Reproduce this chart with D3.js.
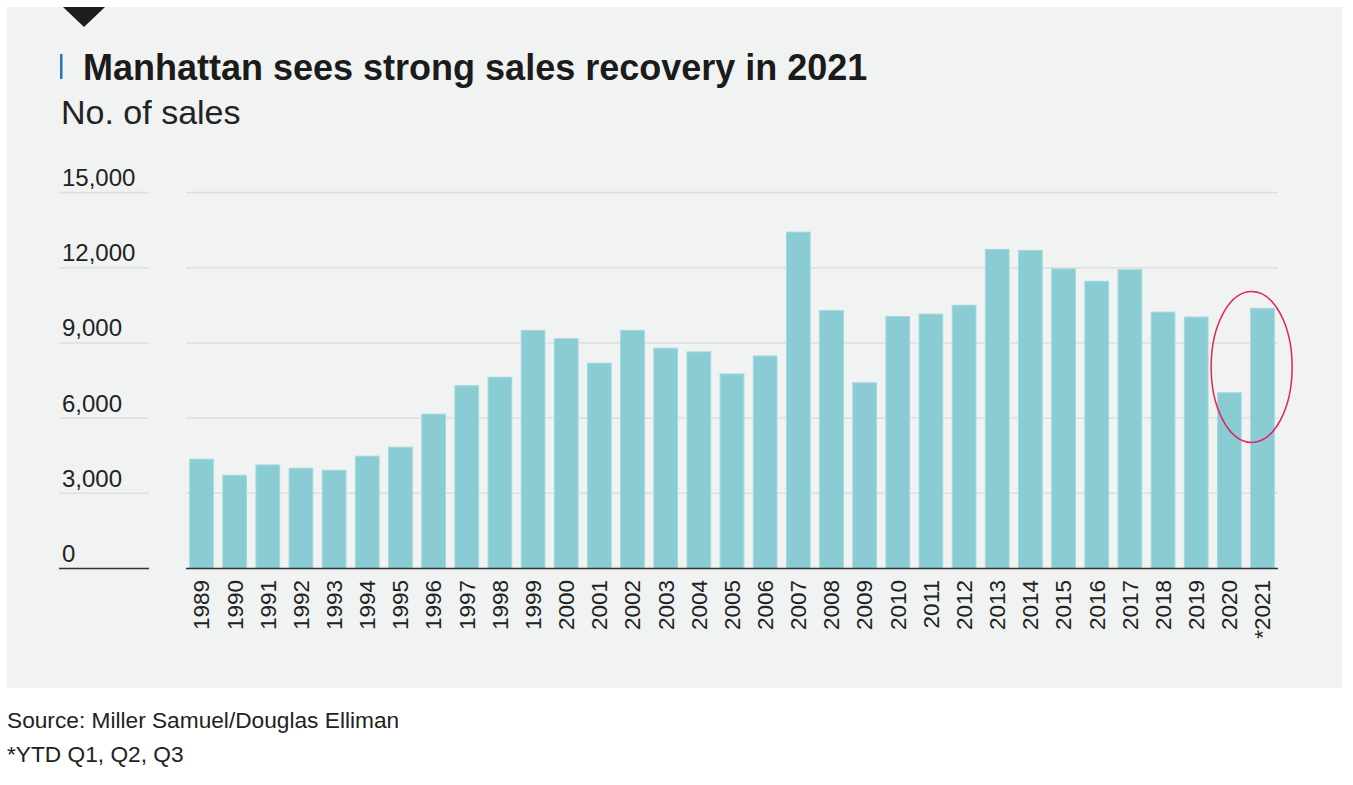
<!DOCTYPE html>
<html>
<head>
<meta charset="utf-8">
<script src="https://cdn.jsdelivr.net/npm/d3@7"></script>
<style>
    body { margin: 0; background: #ffffff; }
    text { font-family: "Liberation Sans", Arial, sans-serif; }
</style>
</head>
<body>
<div id="chart"></div>
<script>

// years on the x axis
let years = ["1989", "1990", "1991", "1992", "1993", "1994", "1995", "1996", "1997", "1998",
    "1999", "2000", "2001", "2002", "2003", "2004", "2005", "2006", "2007", "2008",
    "2009", "2010", "2011", "2012", "2013", "2014", "2015", "2016", "2017", "2018",
    "2019", "2020", "*2021"];

// number of sales
let sales = [4360, 3720, 4130, 4000, 3920, 4480, 4840, 6160, 7290, 7630,
    9500, 9170, 8190, 9500, 8790, 8640, 7760, 8480, 13420, 10290,
    7410, 10050, 10150, 10500, 12730, 12690, 11950, 11460, 11920, 10230,
    10030, 7010, 10380];

let yTicks = [0, 3000, 6000, 9000, 12000, 15000];

let titleText = "Manhattan sees strong sales recovery in 2021";
let subtitleText = "No. of sales";
let notes = ["Source: Miller Samuel/Douglas Elliman", "*YTD Q1, Q2, Q3"];


class BarVis {

    constructor(parentElement) {
        this.parentElement = parentElement;
        this.data = years.map((d, i) => ({year: d, value: sales[i]}));
        this.initVis();
    }

    initVis() {
        let vis = this;

        vis.width = 1353;
        vis.height = 785;

        vis.svg = d3.select("#" + vis.parentElement).append("svg")
            .attr("width", vis.width)
            .attr("height", vis.height);

        // grey panel behind the chart
        vis.svg.append("rect")
            .attr("x", 7).attr("y", 7)
            .attr("width", 1335).attr("height", 681)
            .attr("fill", "#f0f3f2");

        // little black marker on top
        vis.svg.append("path")
            .attr("d", "M63,7 L105,7 L84,27 Z")
            .attr("fill", "#1e1e1e");

        // title + blue tick
        vis.svg.append("rect")
            .attr("x", 60).attr("y", 54)
            .attr("width", 2.5).attr("height", 25)
            .attr("fill", "#1f7bb8");

        vis.svg.append("text")
            .attr("x", 83).attr("y", 80)
            .attr("font-size", 36)
            .attr("font-weight", 700)
            .attr("fill", "#1b1b1b")
            .text(titleText);

        vis.svg.append("text")
            .attr("x", 61).attr("y", 124)
            .attr("font-size", 34)
            .attr("fill", "#222")
            .text(subtitleText);

        // scales
        vis.x = d3.scaleBand()
            .domain(years)
            .range([186, 1278])
            .paddingInner(0.285)
            .paddingOuter(0.11);

        vis.y = d3.scaleLinear()
            .domain([0, 15000])
            .range([568.5, 192.5]);

        // gridlines, split in label part and plot part
        let grid = vis.svg.append("g").attr("class", "grid");

        grid.selectAll(".grid-left")
            .data(yTicks)
            .enter()
            .append("line")
            .attr("x1", 59).attr("x2", 149)
            .attr("y1", d => vis.y(d)).attr("y2", d => vis.y(d))
            .attr("stroke", d => d === 0 ? "#333" : "#dcdfde")
            .attr("stroke-width", 1.5);

        grid.selectAll(".grid-right")
            .data(yTicks.filter(d => d !== 0))
            .enter()
            .append("line")
            .attr("x1", 186).attr("x2", 1278)
            .attr("y1", d => vis.y(d)).attr("y2", d => vis.y(d))
            .attr("stroke", "#dcdfde")
            .attr("stroke-width", 1.5);

        // y labels sit above their line
        vis.svg.selectAll(".y-label")
            .data(yTicks)
            .enter()
            .append("text")
            .attr("class", "y-label")
            .attr("x", 62)
            .attr("y", d => vis.y(d) - 6.5)
            .attr("font-size", 24)
            .attr("fill", "#222")
            .text(d => d3.format(",")(d));

        // bars
        vis.svg.selectAll(".bar")
            .data(vis.data)
            .enter()
            .append("rect")
            .attr("class", "bar")
            .attr("x", d => vis.x(d.year))
            .attr("width", vis.x.bandwidth())
            .attr("y", d => vis.y(d.value))
            .attr("height", d => vis.y(0) - vis.y(d.value))
            .attr("fill", "#89ccd4")
            .attr("stroke", "#a3d8de")
            .attr("stroke-width", 1);

        // baseline
        vis.svg.append("line")
            .attr("x1", 186).attr("x2", 1278)
            .attr("y1", vis.y(0)).attr("y2", vis.y(0))
            .attr("stroke", "#333")
            .attr("stroke-width", 1.5);

        // rotated year labels
        vis.svg.selectAll(".x-label")
            .data(years)
            .enter()
            .append("text")
            .attr("class", "x-label")
            .attr("transform", d => `translate(${vis.x(d) + vis.x.bandwidth() / 2}, 580) rotate(-90)`)
            .attr("text-anchor", "end")
            .attr("dy", "0.35em")
            .attr("font-size", 22.5)
            .attr("fill", "#222")
            .text(d => d);

        // red ellipse around 2020 / 2021
        vis.svg.append("ellipse")
            .attr("cx", vis.x("*2021") + 1)
            .attr("cy", vis.y(8040))
            .attr("rx", 40.5)
            .attr("ry", vis.y(0) - vis.y(3010))
            .attr("fill", "none")
            .attr("stroke", "#e0245e")
            .attr("stroke-width", 1.5);

        // footnotes
        vis.svg.selectAll(".note")
            .data(notes)
            .enter()
            .append("text")
            .attr("class", "note")
            .attr("x", 7)
            .attr("y", (d, i) => 728 + i * 34)
            .attr("font-size", 22.7)
            .attr("fill", "#222")
            .text(d => d);
    }
}

let myBarVis = new BarVis("chart");

</script>
</body>
</html>
